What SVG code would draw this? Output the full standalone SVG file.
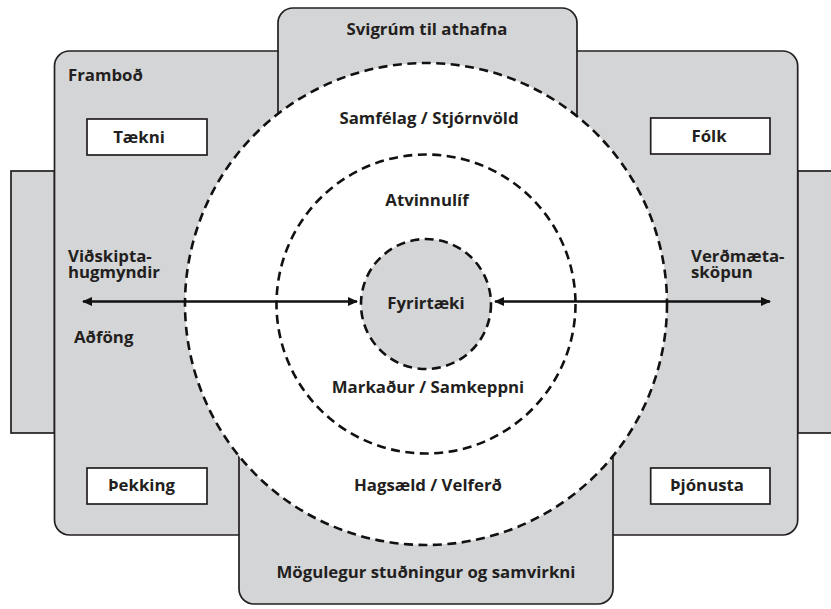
<svg xmlns="http://www.w3.org/2000/svg" width="831" height="609" viewBox="0 0 831 609">
  <defs>
    <style>
      .panel { fill: #d4d5d7; stroke: #231f20; stroke-width: 1.7; }
      .edge { fill: none; stroke: #231f20; stroke-width: 1.7; }
      .ring { fill: none; stroke: #111; stroke-width: 2.6; stroke-dasharray: 9 5.5; }
      .core { fill: #d4d5d7; stroke: #111; stroke-width: 2.6; stroke-dasharray: 9 5.5; }
      .box { fill: #fff; stroke: #231f20; stroke-width: 1.7; }
      .flow { stroke: #111; stroke-width: 2.4; fill: none; marker-start: url(#head); marker-end: url(#head); }
      text { font-family: "Open Sans", "Noto Sans", "Liberation Sans", sans-serif; font-weight: 700; font-size: 16.8px; fill: #231f20; }
      .mid { text-anchor: middle; }
    </style>
    <marker id="head" viewBox="0 0 10 9" refX="9" refY="4.5" markerWidth="10" markerHeight="9" markerUnits="userSpaceOnUse" orient="auto-start-reverse">
      <path d="M0,0 L10,4.5 L0,9 z" fill="#111"/>
    </marker>
  </defs>

  <!-- side tabs -->
  <g id="side-tabs">
    <rect class="panel" x="11" y="171" width="43.5" height="262"/>
    <rect class="panel" x="797.7" y="171" width="45" height="262"/>
  </g>

  <!-- gray frame: panels and top/bottom tabs -->
  <g id="frame">
    <path class="panel" d="M54.5,66 A15,15 0 0 1 69.5,51 H278 V23 A15,15 0 0 1 293,8 H562 A15,15 0 0 1 577,23 V51 H782.7 A15,15 0 0 1 797.7,66 V520 A15,15 0 0 1 782.7,535 H613 V589 A15,15 0 0 1 598,604 H254 A15,15 0 0 1 239,589 V535 H69.5 A15,15 0 0 1 54.5,520 Z"/>
    <path class="edge" d="M278,51 V130 M577,51 V130 M239,430 V535 M613,430 V535"/>
  </g>

  <!-- concentric rings -->
  <g id="ring-society">
    <circle cx="426" cy="304" r="241" fill="#fff" stroke="none"/>
    <circle class="ring" cx="426" cy="304" r="241"/>
  </g>
  <g id="ring-business">
    <circle class="ring" cx="426" cy="304" r="149.5"/>
  </g>
  <g id="company">
    <circle class="core" cx="426" cy="304" r="65"/>
    <text class="mid" x="426" y="309">Fyrirtæki</text>
  </g>

  <!-- connectors -->
  <g id="connectors">
    <line class="flow" x1="83" y1="301.5" x2="357" y2="301.5"/>
    <line class="flow" x1="495" y1="301.5" x2="770" y2="301.5"/>
  </g>

  <!-- labels -->
  <g id="top-tab"><text class="mid" x="427" y="35">Svigrúm til athafna</text></g>
  <g id="bottom-tab"><text class="mid" x="426" y="578">Mögulegur stuðningur og samvirkni</text></g>
  <g id="framboð"><text x="68" y="81">Framboð</text></g>
  <g id="ring-labels">
    <text class="mid" x="429" y="124">Samfélag / Stjórnvöld</text>
    <text class="mid" x="427" y="206">Atvinnulíf</text>
    <text class="mid" x="428" y="393">Markaður / Samkeppni</text>
    <text class="mid" x="428" y="491">Hagsæld / Velferð</text>
  </g>
  <g id="inputs">
    <text x="68" y="262">Viðskipta-</text>
    <text x="68" y="278">hugmyndir</text>
    <text x="74" y="343">Aðföng</text>
  </g>
  <g id="outputs">
    <text x="691" y="262">Verðmæta-</text>
    <text x="691" y="278">sköpun</text>
  </g>

  <g id="taekni">
    <rect class="box" x="87" y="119" width="120" height="36"/>
    <text class="mid" x="139" y="143">Tækni</text>
  </g>
  <g id="folk">
    <rect class="box" x="650.7" y="118" width="119.3" height="36"/>
    <text class="mid" x="709" y="142">Fólk</text>
  </g>
  <g id="thekking">
    <rect class="box" x="87" y="468" width="120" height="36"/>
    <text class="mid" x="141.5" y="491">Þekking</text>
  </g>
  <g id="thjonusta">
    <rect class="box" x="650.7" y="468" width="119.3" height="36"/>
    <text class="mid" x="707" y="491">Þjónusta</text>
  </g>
</svg>
